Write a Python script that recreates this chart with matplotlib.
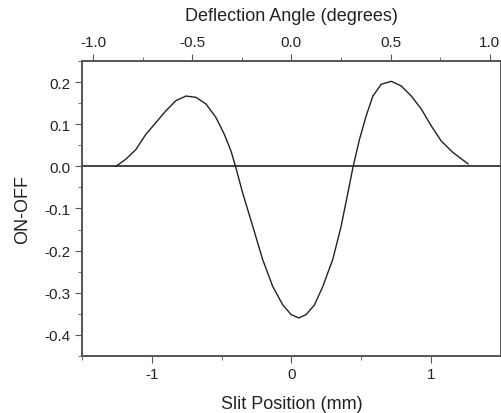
import matplotlib
matplotlib.use('Agg')
import matplotlib.pyplot as plt
from matplotlib.ticker import MultipleLocator

plt.rcParams['font.family'] = ['Liberation Sans', 'DejaVu Sans']

# slit position (mm) and ON-OFF signal
slit_mm = [-1.257, -1.185, -1.113, -1.042, -0.970, -0.898, -0.827, -0.755,
           -0.683, -0.611, -0.540, -0.480, -0.432, -0.400, -0.349, -0.277,
           -0.206, -0.134, -0.062, -0.002, 0.053, 0.105, 0.165, 0.225, 0.296,
           0.356, 0.404, 0.442, 0.487, 0.535, 0.583, 0.643, 0.715, 0.786,
           0.858, 0.930, 1.001, 1.073, 1.156, 1.264]
on_off = [0.000, 0.017, 0.040, 0.076, 0.104, 0.132, 0.156, 0.167,
          0.164, 0.148, 0.116, 0.076, 0.036, 0.000, -0.063, -0.142,
          -0.221, -0.285, -0.329, -0.352, -0.360, -0.352, -0.329, -0.285, -0.221,
          -0.142, -0.063, 0.000, 0.064, 0.120, 0.167, 0.195, 0.202, 0.191,
          0.167, 0.136, 0.096, 0.060, 0.033, 0.006]

deg_per_mm = 0.7045
spine_col = '#555555'

fig = plt.figure(figsize=(5.02, 4.14), dpi=100)
ax = fig.add_axes([0.163, 0.138, 0.835, 0.712])
ax.plot(slit_mm, on_off, color='#222222', lw=1.0)
ax.axhline(0, color='#222222', lw=1.2)

ax.set_xlim(-1.5, 1.5)
ax.set_ylim(-0.45, 0.25)
ax.xaxis.set_minor_locator(MultipleLocator(0.5))
ax.yaxis.set_minor_locator(MultipleLocator(0.05))
ax.set_xticks([-1, 0, 1])
ax.set_xticklabels(['-1', '0', '1'])
ax.set_yticks([0.2, 0.1, 0.0, -0.1, -0.2, -0.3, -0.4])
ax.set_yticklabels(['0.2', '0.1', '0.0', '-0.1', '-0.2', '-0.3', '-0.4'])
ax.tick_params(which='both', direction='out', colors=spine_col, labelcolor='#222222',
               labelsize=11, right=True)
ax.tick_params(which='major', length=5)
ax.tick_params(which='minor', length=3)
ax.tick_params(axis='x', pad=3)
ax.set_xlabel('Slit Position (mm)', fontsize=13, color='#222222', labelpad=10)
ax.set_ylabel('ON-OFF', fontsize=13, color='#222222', labelpad=9)

ax2 = ax.twiny()
ax2.set_xlim(-1.5 * deg_per_mm, 1.5 * deg_per_mm)
ax2.set_xticks([-1.0, -0.5, 0.0, 0.5, 1.0])
ax2.set_xticklabels(['-1.0', '-0.5', '0.0', '0.5', '1.0'])
ax2.xaxis.set_minor_locator(MultipleLocator(0.25))
ax2.tick_params(which='both', direction='out', colors=spine_col, labelcolor='#222222',
                labelsize=11)
ax2.tick_params(which='major', length=5)
ax2.tick_params(which='minor', length=3)
ax2.set_xlabel('Deflection Angle (degrees)', fontsize=13, color='#222222', labelpad=11)

for a in (ax, ax2):
    for s in a.spines.values():
        s.set_color(spine_col)
        s.set_linewidth(1.2)

fig.savefig('out.png', dpi=100)
